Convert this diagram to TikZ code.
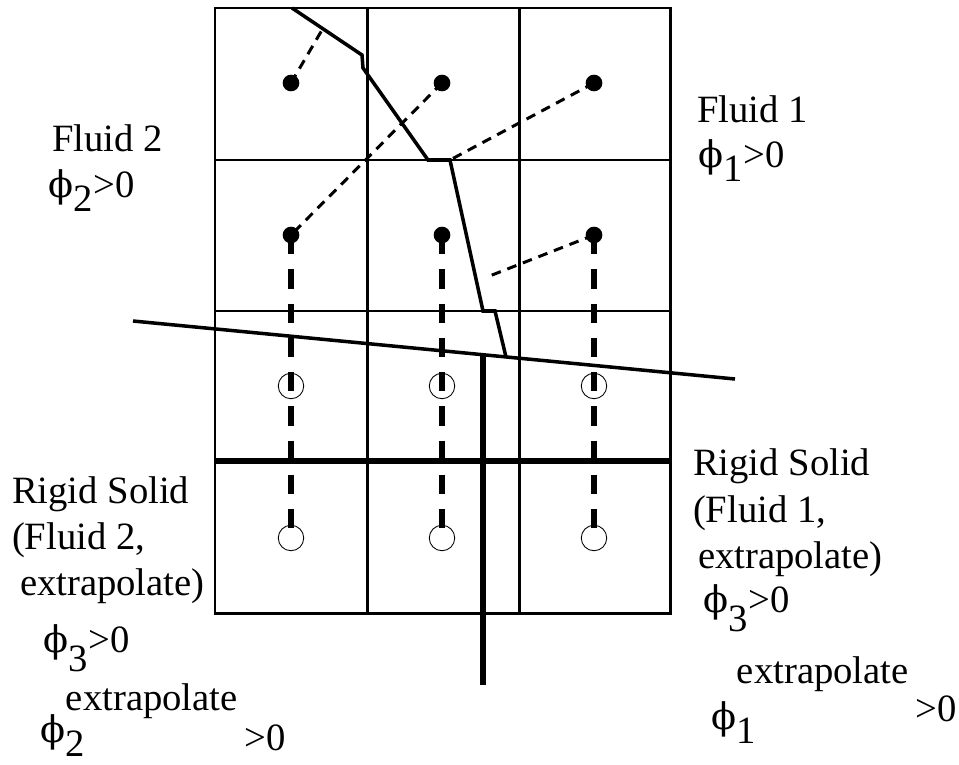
\documentclass[tikz,border=0pt]{standalone}
\usepackage{fontspec}
\setmainfont{Liberation Serif}
\newfontfamily\phifont[Scale=0.95]{DejaVu Serif}

% phi with a lowered index, then ">0"
\newcommand{\phisym}{{\phifont ϕ}}
\newcommand{\phiof}[2][-8pt]{\phisym\kern0.5pt\raisebox{#1}{#2}>0}
% phi with index and raised "extrapolate", then ">0"
\newcommand{\phiext}[3]{\phisym\kern0.5pt\rlap{\raisebox{-8pt}{#1}}\raisebox{#2}{extrapolate}\hspace{4pt}\raisebox{#3}{>0}}

\begin{document}
\begin{tikzpicture}[
  x=0.02cm,y=-0.02cm,
  every node/.style={inner sep=0pt,outer sep=0pt},
  cell/.style={line width=1.7pt},
  solidwall/.style={line width=3.1pt},
  iface/.style={line width=2pt},
  fdot/.style={circle,fill=black,minimum size=9.5pt},
  gdot/.style={circle,draw=black,line width=0.5pt,minimum size=14.5pt},
  probe/.style={line width=1.7pt,dash pattern=on 5.5pt off 4pt},
  vprobe/.style={line width=2.9pt,dash pattern=on 11pt off 8.5pt},
  lab/.style={font=\fontsize{22}{26}\selectfont,anchor=base west},
]
  \useasboundingbox (0,0) rectangle (959,764);

  % ============ grid of cells ============
  \draw[cell] (215,8) rectangle (670,613);
  \foreach \x in {367,519} \draw[cell] (\x,8) -- (\x,613);
  \foreach \y in {160,311} \draw[cell] (215,\y) -- (670,\y);

  % ============ rigid solid walls ============
  \coordinate (h1) at (215,461);
  \coordinate (h2) at (670,461);
  \coordinate (v1) at (483,355);
  \coordinate (v2) at (483,685);
  \draw[solidwall] (h1) -- (h2);
  \draw[solidwall] (v1) -- (v2);

  % slanted boundary
  \coordinate (s1) at (133,321);
  \coordinate (s2) at (735,379);
  \draw[iface] (s1) -- (s2);

  % ============ fluid/fluid interface ============
  \coordinate (i1) at (292,8);
  \coordinate (i2) at (362,55);
  \coordinate (i3) at (363,68);
  \coordinate (i4) at (428,160);
  \coordinate (i5) at (450,160);
  \coordinate (i6) at (483,311);
  \coordinate (i7) at (495,311);
  \coordinate (i8) at (506,357);
  \draw[iface] (i1) -- (i2) -- (i3) -- (i4) -- (i5) -- (i6) -- (i7) -- (i8);

  % ============ cell centres ============
  \foreach \x/\c in {291/1,442/2,594/3} {
    \node[gdot] (a\c) at (\x,386) {};
    \node[gdot] (b\c) at (\x,538) {};
    \draw[vprobe] (\x,235) -- (b\c.center);
    \node[fdot] (u\c) at (\x,83) {};
    \node[fdot] (m\c) at (\x,235) {};
  }

  % probes to the interface
  \coordinate (p1) at (322,30);
  \coordinate (p3) at (487,277);
  \draw[probe] (u1.center) -- (p1);
  \draw[probe] (u2.center) -- (m1.center);
  \draw[probe] (u3.center) -- (i5);
  \draw[probe] (m3.center) -- (p3);

  % ============ labels ============
  \node[lab] (f2a) at (52,151) {Fluid 2};
  \node[lab] (f2b) at (48,197) {\phiof{2}};
  \node[lab] (f1a) at (697,122) {Fluid 1};
  \node[lab] (f1b) at (698,167) {\phiof{1}};

  \node[lab] (l1) at (12,503) {Rigid Solid};
  \node[lab] (l2) at (12,549) {(Fluid 2,};
  \node[lab] (l3) at (20,595) {extrapolate)};
  \node[lab] (l4) at (43,652) {\phiof[-11pt]{3}};
  \node[lab] (l5) at (40,742) {\phiext{2}{18pt}{-5pt}};

  \node[lab] (r1) at (693,475) {Rigid Solid};
  \node[lab] (r2) at (693,522) {(Fluid 1,};
  \node[lab] (r3) at (698,568) {extrapolate)};
  \node[lab] (r4) at (703,612) {\phiof[-11pt]{3}};
  \node[lab] (r5) at (711,729) {\phiext{1}{26pt}{4pt}};
\end{tikzpicture}
\end{document}
